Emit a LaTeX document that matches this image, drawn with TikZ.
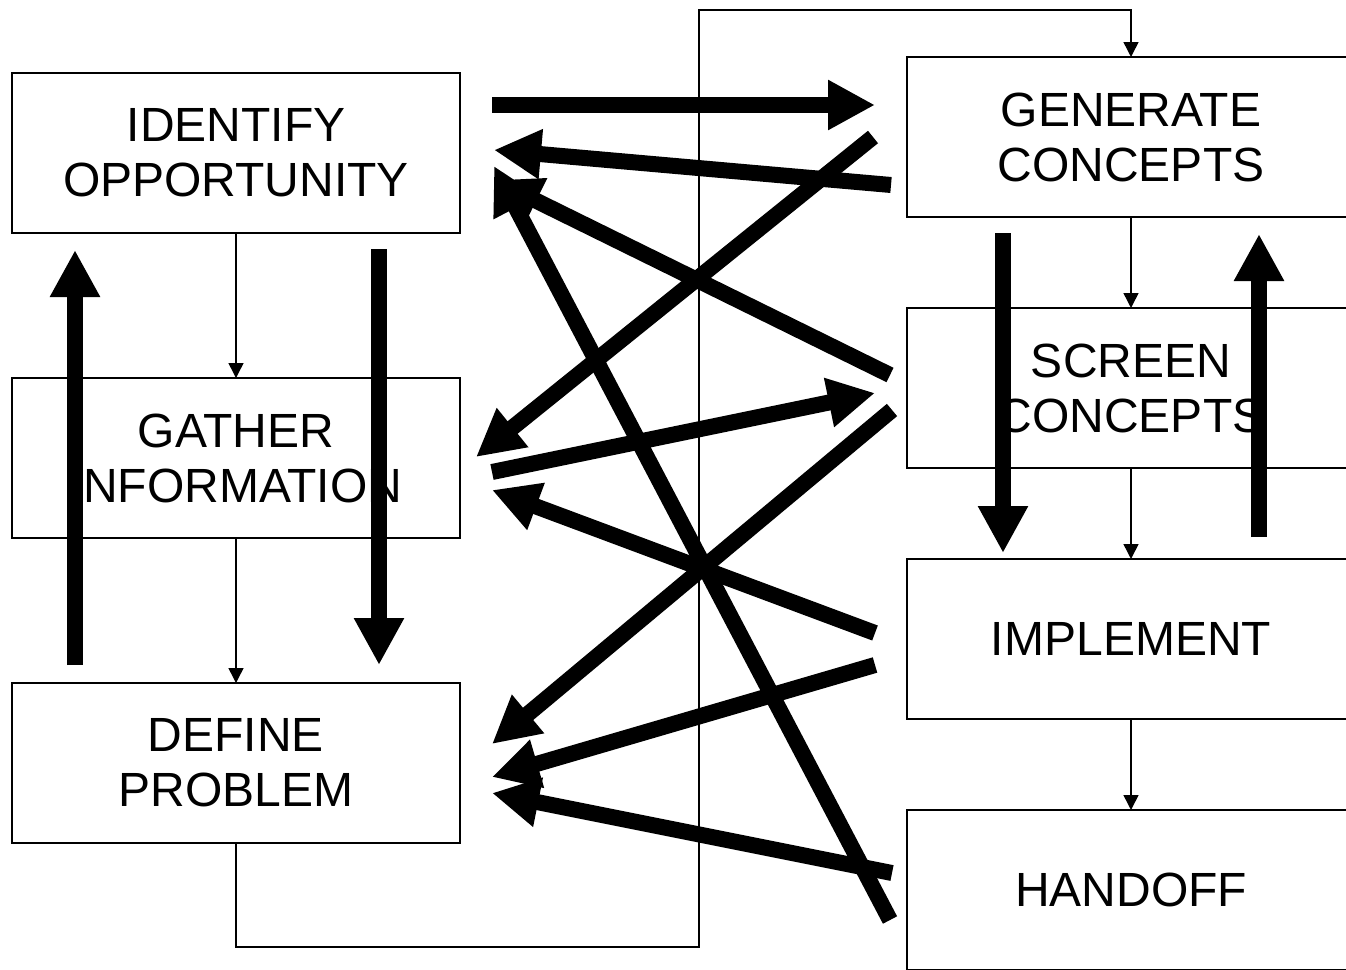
\documentclass[tikz,border=0pt]{standalone}
\usepackage{fontspec}
\setmainfont{Liberation Sans}
\usetikzlibrary{arrows.meta,positioning}

\begin{document}
\begin{tikzpicture}[
  x=1pt, y=-1pt,
  box/.style={rectangle, draw, line width=1.5pt, minimum width=448pt, minimum height=160pt, outer sep=0pt, align=center, font=\fontsize{48}{55}\selectfont},
  link/.style={-{Triangle[length=15pt,width=15pt]}, line width=1.5pt},
  bigarrow/.style={-{Triangle[length=47pt,width=47pt]}, line width=16pt}
]
\useasboundingbox (0,0) rectangle (1346,969);
% left column
\node[box] (ident) at (236,153) {IDENTIFY\\OPPORTUNITY};
\node[box, below=145pt of ident] (gather) {GATHER\\INFORMATION};
\node[box, below=145pt of gather] (define) {DEFINE\\PROBLEM};
% right column
\node[box] (gen) at (1131,137) {GENERATE\\CONCEPTS};
\node[box, below=91pt of gen] (screen) {SCREEN\\CONCEPTS};
\node[box, below=91pt of screen] (impl) {IMPLEMENT};
\node[box, below=91pt of impl] (hand) {HANDOFF};
% thin flow
\coordinate (loopb) at (699,947);
\coordinate (loopt) at (699,10);
\draw[link] (ident) -- (gather);
\draw[link] (gather) -- (define);
\draw[link] (define.south) |- (loopb) -- (loopt) -| (gen.north);
\draw[link] (gen) -- (screen);
\draw[link] (screen) -- (impl);
\draw[link] (impl) -- (hand);
% thick arrows, free ends
\coordinate (s1) at (492,105);  \coordinate (e1) at (875,105);
\coordinate (s2) at (891,185);  \coordinate (e2) at (494,150);
\coordinate (s3) at (873,137);  \coordinate (e3) at (476,457);
\coordinate (s4) at (890,375);  \coordinate (e4) at (494,180);
\coordinate (s5) at (492,472);  \coordinate (e5) at (875,393);
\coordinate (s6) at (892,410);  \coordinate (e6) at (492,744);
\coordinate (s7) at (875,633);  \coordinate (e7) at (492,490);
\coordinate (s8) at (875,665);  \coordinate (e8) at (492,777);
\coordinate (s9) at (892,873);  \coordinate (e9) at (492,793);
\coordinate (s10) at (890,920); \coordinate (e10) at (494,166);
\coordinate (s11) at (75,665);  \coordinate (e11) at (75,250);
\coordinate (s12) at (379,249); \coordinate (e12) at (379,665);
\coordinate (s13) at (1003,233); \coordinate (e13) at (1003,553);
\coordinate (s14) at (1259,537); \coordinate (e14) at (1259,234);
\draw[bigarrow] (s1) -- (e1);
\draw[bigarrow] (s2) -- (e2);
\draw[bigarrow] (s3) -- (e3);
\draw[bigarrow] (s4) -- (e4);
\draw[bigarrow] (s5) -- (e5);
\draw[bigarrow] (s6) -- (e6);
\draw[bigarrow] (s7) -- (e7);
\draw[bigarrow] (s8) -- (e8);
\draw[bigarrow] (s9) -- (e9);
\draw[bigarrow] (s10) -- (e10);
\draw[bigarrow] (s11) -- (e11);
\draw[bigarrow] (s12) -- (e12);
\draw[bigarrow] (s13) -- (e13);
\draw[bigarrow] (s14) -- (e14);
\end{tikzpicture}
\end{document}
